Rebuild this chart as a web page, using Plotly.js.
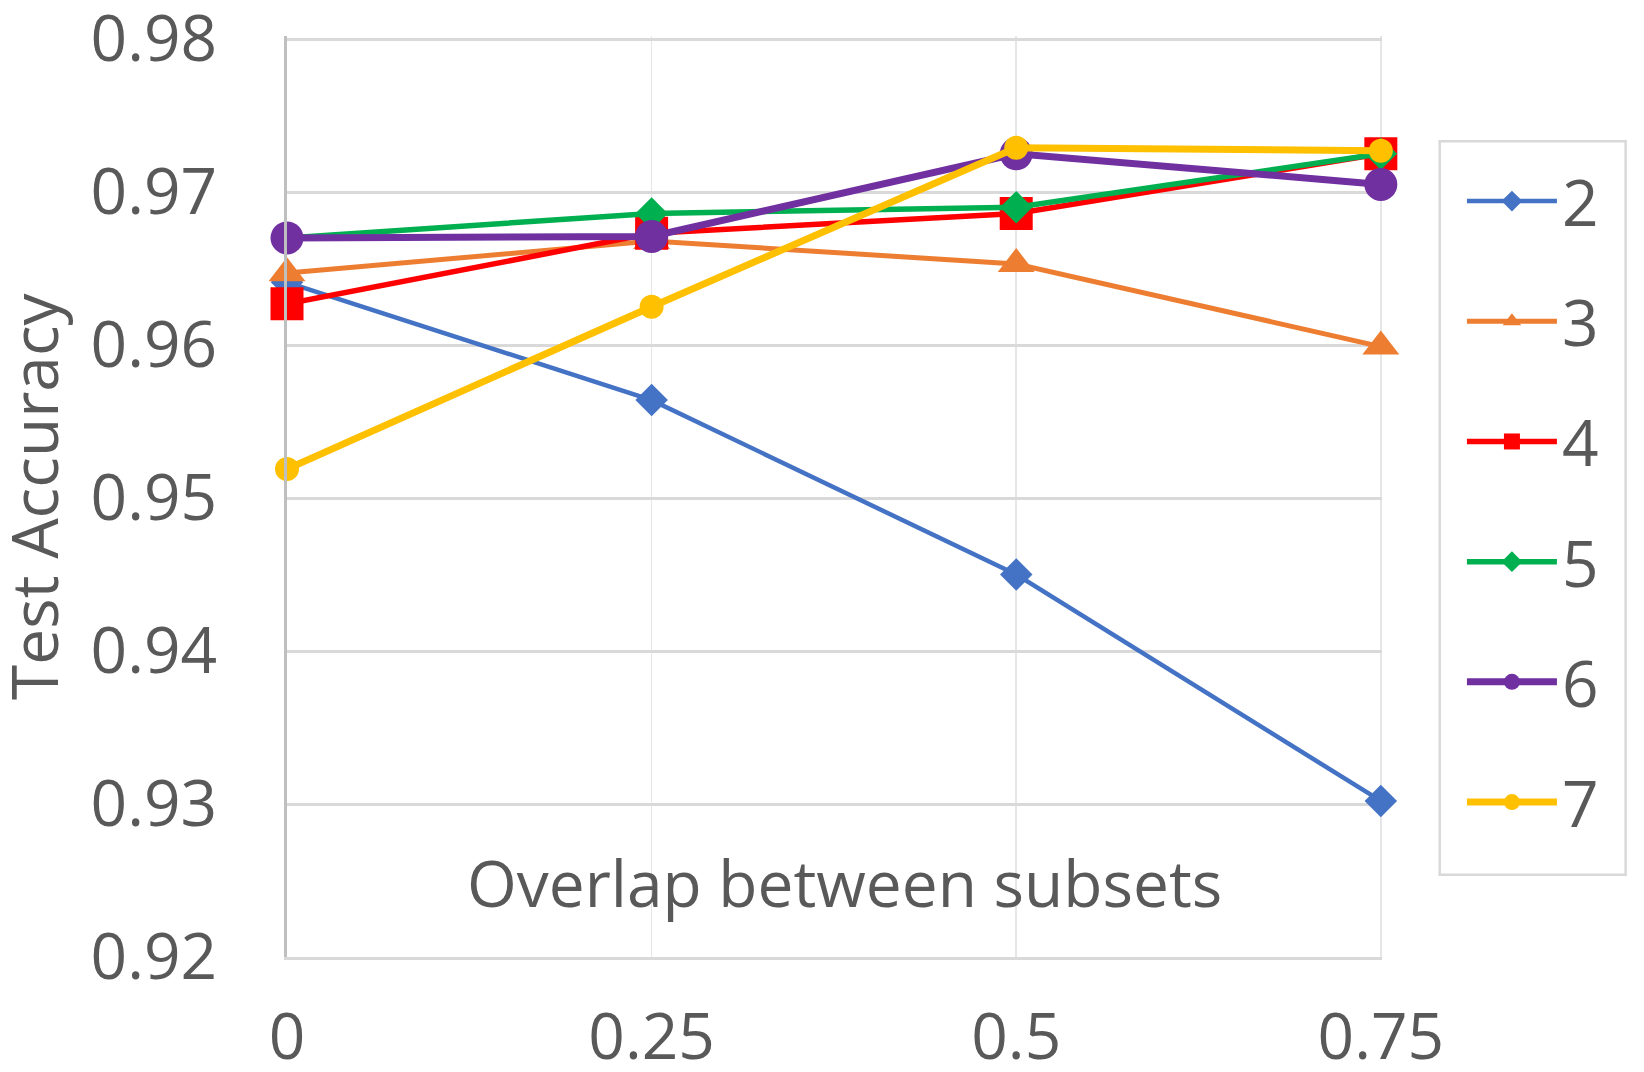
<!DOCTYPE html>
<html>
<head>
<meta charset="utf-8">
<script src="https://cdn.plot.ly/plotly-3.0.1.min.js"></script>
<style>
  html, body { margin: 0; padding: 0; background: #fff; }
  #chart { width: 1644px; height: 1072px; }
</style>
</head>
<body>
<div id="chart"></div>
<script>
// overlap values on the x axis
var overlap = [0, 0.25, 0.5, 0.75];
var yTicks = [0.92, 0.93, 0.94, 0.95, 0.96, 0.97, 0.98];

// test accuracy per number of subsets
var acc2 = [0.9641, 0.9564, 0.9450, 0.9302];
var acc3 = [0.9647, 0.9668, 0.9653, 0.9599];
var acc4 = [0.9627, 0.9673, 0.9686, 0.9725];
var acc5 = [0.9670, 0.9686, 0.9690, 0.9725];
var acc6 = [0.9670, 0.9671, 0.9725, 0.9705];
var acc7 = [0.9519, 0.9625, 0.9729, 0.9727];

var seriesNames = ["2", "3", "4", "5", "6", "7"];
var seriesData = [acc2, acc3, acc4, acc5, acc6, acc7];
var colors = ["#4472C4", "#ED7D31", "#FF0000", "#00B050", "#7030A0", "#FFC000"];
var symbols = ["diamond", "triangle-up", "square", "diamond", "circle", "circle"];
var sizes = [25, 32, 33, 25, 33, 24];
var widths = [4.5, 5, 5.5, 5.5, 7, 7];

var FONT = "Open Sans, Calibri, sans-serif";
var GREY = "#595959";

var traces = [];
for (var i = 0; i < seriesNames.length; i++) {
    traces.push({
        type: "scatter",
        mode: "lines+markers",
        name: seriesNames[i],
        legendgroup: "g" + seriesNames[i],
        x: overlap,
        y: seriesData[i],
        cliponaxis: false,
        line: { color: colors[i], width: widths[i] },
        marker: { symbol: symbols[i], size: sizes[i], color: colors[i] }
    });
}

var layout = {
    width: 1644,
    height: 1072,
    // ranges are padded a hair so the edge gridlines are still drawn
    margin: { l: 287, r: 262, t: 36, b: 115 },
    paper_bgcolor: "#ffffff",
    plot_bgcolor: "#ffffff",
    font: { family: FONT, size: 64, color: GREY },
    showlegend: true,
    legend: {
        x: 1.073,
        y: 0.873,
        xanchor: "left",
        yanchor: "top",
        bgcolor: "rgba(0,0,0,0)",
        borderwidth: 0,
        tracegroupgap: 34,
        itemwidth: 90,
        font: { family: FONT, size: 64, color: GREY }
    },
    xaxis: {
        range: [0, 0.7508],
        tickvals: overlap,
        ticks: "",
        showgrid: true,
        gridcolor: "#e6e6e6",
        gridwidth: 1.5,
        zeroline: false,
        showline: true,
        linecolor: "#d9d9d9",
        linewidth: 3,
        ticklabelstandoff: 22,
        ticklabeloverflow: "allow",
        tickfont: { family: FONT, size: 64, color: GREY }
    },
    yaxis: {
        range: [0.92, 0.9802],
        tickvals: yTicks,
        ticks: "",
        showgrid: true,
        gridcolor: "#d9d9d9",
        gridwidth: 3,
        zeroline: false,
        showline: true,
        linecolor: "#bfbfbf",
        linewidth: 3,
        ticklabelstandoff: 54,
        ticklabeloverflow: "allow",
        tickfont: { family: FONT, size: 64, color: GREY }
    },
    shapes: [{
        // legend frame
        type: "rect",
        xref: "paper",
        yref: "paper",
        x0: 1.0527,
        x1: 1.2225,
        y0: 0.0893,
        y1: 0.8856,
        line: { color: "#d9d9d9", width: 2.5 },
        fillcolor: "rgba(0,0,0,0)"
    }],
    annotations: [{
        text: "Overlap between subsets",
        xref: "paper",
        yref: "paper",
        x: 0.5095,
        y: 0.081,
        xanchor: "center",
        yanchor: "middle",
        showarrow: false,
        font: { family: FONT, size: 64, color: GREY }
    }, {
        // y axis title
        text: "Test Accuracy",
        textangle: -90,
        xref: "paper",
        yref: "paper",
        x: -0.2316,
        y: 0.501,
        xanchor: "center",
        yanchor: "middle",
        showarrow: false,
        font: { family: FONT, size: 64, color: GREY }
    }]
};

Plotly.newPlot("chart", traces, layout, { displayModeBar: false, staticPlot: true });
</script>
</body>
</html>
